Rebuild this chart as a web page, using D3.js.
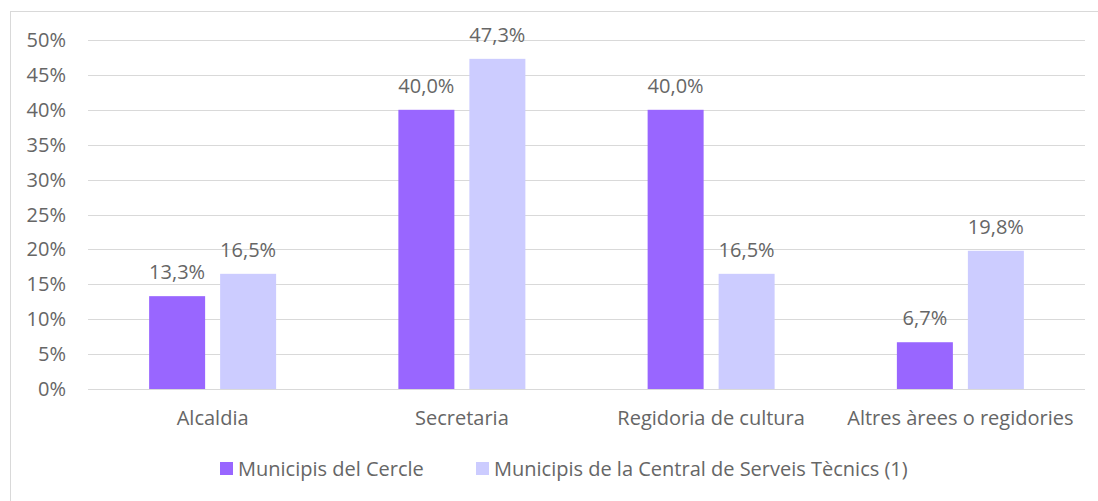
<!DOCTYPE html>
<html>
<head>
<meta charset="utf-8">
<script src="https://cdn.jsdelivr.net/npm/d3@7"></script>
<style>
  body { margin: 0; background: #fff; }
  svg text { font-family: "Open Sans", sans-serif; fill: #666666; font-size: 20px; }
</style>
</head>
<body>
<div id="chart"></div>
<script>
const categories = ["Alcaldia", "Secretaria", "Regidoria de cultura", "Altres àrees o regidories"];
const seriesNames = ["Municipis del Cercle", "Municipis de la Central de Serveis Tècnics (1)"];
const cercle = [13.3, 40.0, 40.0, 6.7];
const central = [16.5, 47.3, 16.5, 19.8];
const yTicks = [0, 5, 10, 15, 20, 25, 30, 35, 40, 45, 50];
const colors = ["#9966FF", "#CCCCFF"];

const width = 1098, height = 501;
const svg = d3.select("#chart").append("svg")
  .attr("width", width)
  .attr("height", height);

// chart border
svg.append("rect")
  .attr("x", 10.5).attr("y", 11.5)
  .attr("width", 1100).attr("height", 520)
  .attr("fill", "none")
  .attr("stroke", "#D9D9D9");

const x = d3.scaleBand().domain(categories).range([88, 1085]);
const y = d3.scaleLinear().domain([0, 50]).range([389, 40]);

// gridlines
svg.append("g").selectAll("line")
  .data(yTicks)
  .join("line")
  .attr("x1", 88).attr("x2", 1085)
  .attr("y1", d => Math.round(y(d)) + 0.5)
  .attr("y2", d => Math.round(y(d)) + 0.5)
  .attr("stroke", "#D9D9D9");

// y tick labels
svg.append("g").selectAll("text")
  .data(yTicks)
  .join("text")
  .attr("x", 66)
  .attr("y", d => y(d))
  .attr("dy", "0.35em")
  .attr("text-anchor", "end")
  .text(d => d + "%");

// bars
const barW = 56, gap = 15;
const sub = d3.scaleOrdinal().domain([0, 1]).range([-(gap / 2 + barW), gap / 2]);
const rows = categories.map((c, i) => [
  { cat: c, s: 0, v: cercle[i] },
  { cat: c, s: 1, v: central[i] }
]).flat();

const fmt = v => v.toFixed(1).replace(".", ",") + "%";

svg.append("g").selectAll("rect")
  .data(rows)
  .join("rect")
  .attr("x", d => x(d.cat) + x.bandwidth() / 2 + sub(d.s))
  .attr("y", d => y(d.v))
  .attr("width", barW)
  .attr("height", d => y(0) - y(d.v))
  .attr("fill", d => colors[d.s]);

svg.append("g").selectAll("text")
  .data(rows)
  .join("text")
  .attr("x", d => x(d.cat) + x.bandwidth() / 2 + sub(d.s) + barW / 2)
  .attr("y", d => y(d.v) - 17)
  .attr("text-anchor", "middle")
  .text(d => fmt(d.v));

// category labels
svg.append("g").selectAll("text")
  .data(categories)
  .join("text")
  .attr("x", d => x(d) + x.bandwidth() / 2)
  .attr("y", 425)
  .attr("text-anchor", "middle")
  .text(d => d);

// legend
const legendX = [220, 476];
const lg = svg.append("g").selectAll("g")
  .data(seriesNames)
  .join("g")
  .attr("transform", (d, i) => `translate(${legendX[i]},462)`);
lg.append("rect")
  .attr("width", 13).attr("height", 13)
  .attr("fill", (d, i) => colors[i]);
lg.append("text")
  .attr("x", 18).attr("y", 6.5)
  .attr("dy", "0.35em")
  .text(d => d);
</script>
</body>
</html>
